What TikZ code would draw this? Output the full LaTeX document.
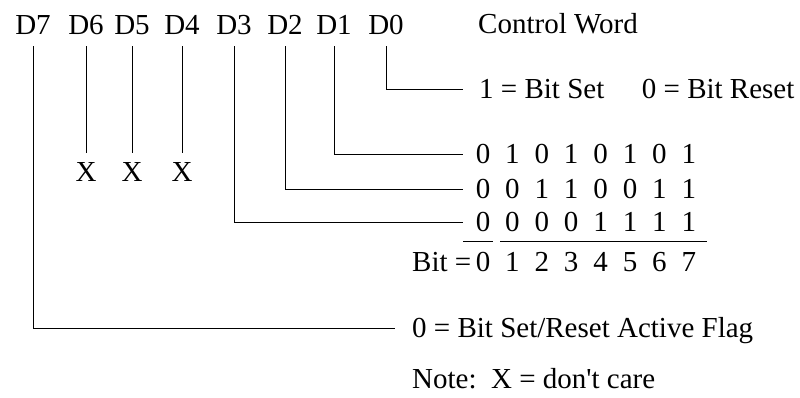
\documentclass[tikz,border=0pt]{standalone}
\usepackage{fontspec}
\setmainfont{Liberation Serif}
\usepackage{tikz}
\tikzstyle{dbit} = [anchor=base, inner xsep=0pt, inner ysep=12pt, text depth=0pt]
\tikzstyle{cross} = [anchor=base, inner xsep=0pt, inner ysep=9pt, text depth=0pt]
\tikzstyle{desc} = [anchor=west, inner sep=0pt, text height=19.6pt, text depth=0pt]
\tikzstyle{cell} = [inner sep=0pt, text height=19.6pt, text depth=0pt]
\tikzstyle{wire} = [line width=1pt]

\begin{document}
\begin{tikzpicture}[x=1pt, y=-1pt, font=\fontsize{29}{34}\selectfont]
\useasboundingbox (0,0) rectangle (800,397);
% control word bits
\foreach \n/\x in {7/33,6/86,5/132,4/182,3/234,2/285,1/334,0/386}
    \node[dbit] (d\n) at (\x,34) {D\n};
\node[desc] (ctrl) at (478,24) {Control Word};
% don't care bits
\foreach \n/\x in {6/86,5/132,4/182} {
    \node[cross] (x\n) at (\x,181) {X};
    \draw[wire] (d\n) -- (x\n);
}
% bit select table
\foreach \r/\y/\bits in {a/154/{0,1,0,1,0,1,0,1}, b/189/{0,0,1,1,0,0,1,1},
        c/222/{0,0,0,0,1,1,1,1}, n/262/{0,1,2,3,4,5,6,7}}
    \foreach \b [count=\i from 0] in \bits
        \node[cell] (r\r\i) at (483+29.4*\i,\y) {\b};
\node[desc] (bitlbl) at (412,262) {Bit =};
\draw[wire] (463,241.7) -- (493,241.7);
\draw[wire] (500,241.7) -- (707,241.7);
% descriptions
\node[desc] (setbit) at (479,89) {1 = Bit Set};
\node[desc] (resetbit) at (641.7,89) {0 = Bit Reset};
\node[desc] (flag) at (412,328) {0 = Bit Set/Reset Active Flag};
\node[desc] (note) at (412,379) {Note:\ \ X = don\textquotesingle t care};
% connectors
\draw[wire] (d0.south) |- ([xshift=-16pt]setbit.west);
\draw[wire] (d1.south) |- ([xshift=-13pt]ra0.west);
\draw[wire] (d2.south) |- ([xshift=-13pt]rb0.west);
\draw[wire] (d3.south) |- ([xshift=-13pt]rc0.west);
\draw[wire] (d7.south) |- ([xshift=-17pt]flag.west);
\end{tikzpicture}
\end{document}
